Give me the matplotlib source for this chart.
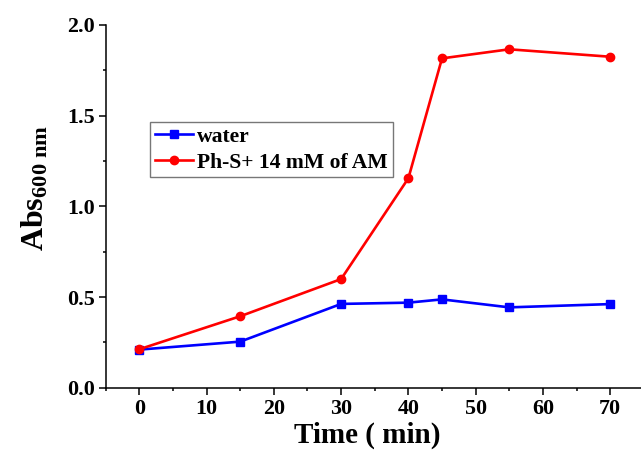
import matplotlib
matplotlib.use("Agg")
import matplotlib.pyplot as plt

time_min = [0, 15, 30, 40, 45, 55, 70]
water = [0.21, 0.254, 0.462, 0.469, 0.487, 0.443, 0.461]
phs_am = [0.212, 0.394, 0.599, 1.155, 1.816, 1.866, 1.825]
series_labels = ["water", "Ph-S+ 14 mM of AM"]
xticks = [0, 10, 20, 30, 40, 50, 60, 70]
yticks = [0.0, 0.5, 1.0, 1.5, 2.0]

plt.rcParams['font.family'] = ['Liberation Serif', 'DejaVu Serif']
plt.rcParams['font.weight'] = 'bold'
plt.rcParams['mathtext.fontset'] = 'custom'
plt.rcParams['mathtext.rm'] = 'Liberation Serif:bold'
plt.rcParams['mathtext.bf'] = 'Liberation Serif:bold'
plt.rcParams['mathtext.it'] = 'Liberation Serif:bold'

W, H = 641, 450
fig = plt.figure(figsize=(W/100, H/100), dpi=100)
left = 105.7 / W
bottom = (H - 387.7) / H
width = (643.8 - 105.7) / W
height = (387.7 - 25) / H
ax = fig.add_axes([left, bottom, width, height])

ax.plot(time_min, water, color='#0000ff', lw=1.9, marker='s', ms=5.2,
        label=series_labels[0], clip_on=False, zorder=3)
ax.plot(time_min, phs_am, color='#ff0000', lw=1.9, marker='o', ms=6,
        label=series_labels[1], clip_on=False, zorder=3)

ax.set_xlim(-5, 75)
ax.set_ylim(0, 2.0)
ax.set_xticks(xticks)
ax.set_yticks(yticks)
ax.set_xticks([-5, 5, 15, 25, 35, 45, 55, 65, 75], minor=True)
ax.set_yticks([0.25, 0.75, 1.25, 1.75], minor=True)
ax.set_yticklabels([f"{v:.1f}" for v in yticks])

for s in ['top', 'right']:
    ax.spines[s].set_visible(False)
for s in ['left', 'bottom']:
    ax.spines[s].set_linewidth(1.1)

ax.tick_params(axis='both', which='major', direction='out', length=4.8, width=1.1,
               labelsize=15.8)
ax.tick_params(axis='both', which='minor', direction='out', length=2.4, width=1.1)
ax.tick_params(axis='x', which='major', pad=3.5)
ax.tick_params(axis='y', which='major', pad=3)
for lab in ax.get_xticklabels() + ax.get_yticklabels():
    lab.set_fontweight('bold')

fig.text(367.5 / W, (H - 443) / H, "Time ( min)", fontsize=21, fontweight='bold',
         ha='center', va='baseline')
fig.text(35 / W, (H - 188) / H, r"$\mathbf{Abs}_{\mathbf{600\ nm}}$", fontsize=23,
         rotation=90, ha='center', va='center')

leg = ax.legend(loc='upper left', bbox_to_anchor=(150 / W, (H - 122) / H),
                bbox_transform=fig.transFigure, frameon=True,
                fancybox=False, handlelength=1.75, handletextpad=0.2,
                borderpad=0.22, labelspacing=0.25, borderaxespad=0,
                prop={'weight': 'bold', 'size': 15.6})
leg.get_frame().set_edgecolor('#555555')
leg.get_frame().set_linewidth(1.0)

fig.savefig("out.png", dpi=100)
